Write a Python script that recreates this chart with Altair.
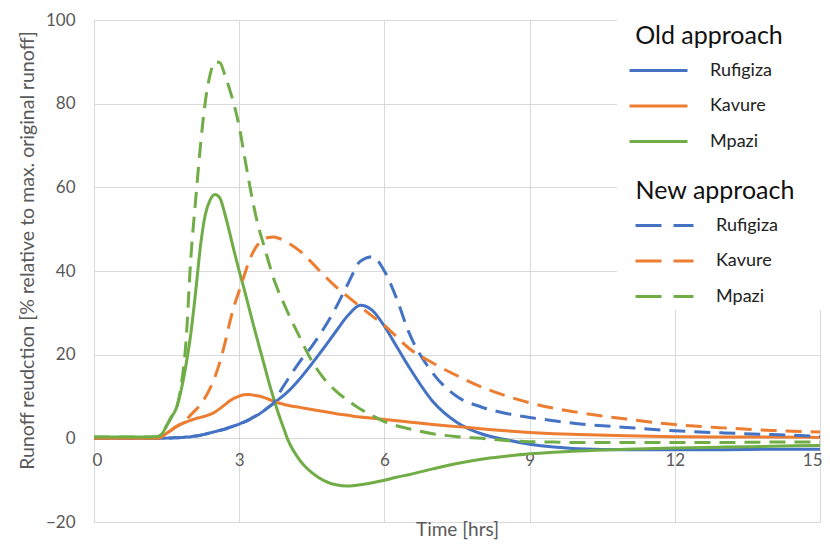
import altair as alt
import pandas as pd

time_hrs = [0, 1.0, 1.3, 1.4, 1.5, 1.6, 1.7, 1.8, 1.9, 2.0, 2.1, 2.2, 2.3, 2.4, 2.5, 2.6,
            2.7, 2.8, 2.9, 3.0, 3.1, 3.2, 3.3, 3.4, 3.5, 3.6, 3.7, 3.8, 3.9, 4.0, 4.25,
            4.5, 4.75, 5.0, 5.25, 5.5, 5.75, 6.0, 6.25, 6.5, 7.0, 7.5, 8.0, 8.5, 9.0,
            9.5, 10, 11, 12, 13, 14, 15]

rufigiza_old = [0, 0, 0, 0, 0.05, 0.1, 0.15, 0.2, 0.3, 0.4, 0.55, 0.75, 1.0, 1.3, 1.6, 1.9,
                2.2, 2.6, 3.0, 3.4, 3.9, 4.4, 5.1, 5.7, 6.5, 7.4, 8.3, 9.2, 10.1, 11.1, 14.2,
                17.8, 21.6, 25.6, 29.4, 31.8, 30.6, 26.8, 22.0, 17.2, 8.8, 3.8, 1.1, -0.3, -1.4,
                -2.1, -2.5, -2.7, -2.7, -2.7, -2.6, -2.6]
kavure_old = [0, 0, 0, 0.4, 1.2, 2.0, 2.8, 3.4, 3.9, 4.3, 4.7, 5.0, 5.3, 5.7, 6.3, 7.1,
              8.0, 8.9, 9.6, 10.1, 10.4, 10.5, 10.3, 10.1, 9.8, 9.4, 8.9, 8.5, 8.2, 7.9, 7.4,
              6.9, 6.4, 5.9, 5.5, 5.1, 4.8, 4.5, 4.2, 3.9, 3.3, 2.8, 2.3, 1.8, 1.4,
              1.1, 0.9, 0.6, 0.4, 0.3, 0.3, 0.2]
mpazi_old = [0.3, 0.3, 0.4, 1.0, 3.0, 5.0, 7.2, 11.5, 17.5, 25.0, 35.0, 46.0, 53.5, 57.0, 58.3, 57.5,
             53.8, 49.3, 44.5, 40.0, 35.8, 31.3, 26.8, 22.5, 18.3, 14.0, 10.0, 6.3, 3.0, -0.2, -5.2,
             -8.2, -10.1, -11.1, -11.4, -11.1, -10.6, -10.0, -9.3, -8.7, -7.3, -6.0, -5.0, -4.3, -3.7,
             -3.3, -3.0, -2.6, -2.3, -2.1, -1.9, -1.7]

rufigiza_new = [0, 0, 0, 0, 0.05, 0.1, 0.15, 0.2, 0.3, 0.4, 0.55, 0.75, 1.0, 1.3, 1.6, 1.9,
                2.2, 2.6, 3.0, 3.4, 3.9, 4.4, 5.1, 5.7, 6.5, 7.4, 8.3, 10.3, 12.2, 14.0, 18.3,
                22.0, 26.3, 31.3, 37.0, 42.3, 43.4, 40.0, 33.5, 25.5, 15.6, 10.0, 7.5, 6.0, 5.0,
                4.2, 3.5, 2.6, 1.8, 1.3, 0.9, 0.5]
kavure_new = [0, 0, 0, 0.4, 1.2, 2.0, 2.8, 3.5, 4.4, 5.6, 6.8, 8.0, 9.8, 12.0, 14.7, 18.2,
              22.5, 27.5, 31.8, 35.3, 38.8, 42.2, 44.8, 46.5, 47.4, 48.0, 48.1, 47.9, 47.4, 46.8, 44.8,
              42.0, 39.0, 36.2, 33.8, 31.5, 29.2, 27.0, 24.3, 21.6, 18.0, 15.0, 12.3, 10.2, 8.5,
              7.2, 6.2, 4.6, 3.3, 2.5, 1.9, 1.5]
mpazi_new = [0.3, 0.3, 0.4, 1.0, 3.0, 5.2, 7.0, 12.5, 23.0, 43.0, 57.0, 70.0, 80.5, 87.0, 90.0, 89.8,
             87.0, 83.5, 79.5, 74.5, 68.0, 61.5, 55.5, 50.5, 46.5, 42.5, 38.6, 35.5, 32.8, 30.2, 24.2,
             18.5, 14.3, 11.3, 9.0, 7.0, 5.4, 4.0, 3.0, 2.3, 1.1, 0.4, 0.0, -0.5, -0.8,
             -0.9, -1.0, -1.0, -1.0, -1.0, -0.9, -0.9]

sites = ["Rufigiza", "Kavure", "Mpazi"]
colors = ["#4472C4", "#ED7D31", "#70AD47"]
x_ticks = [0, 3, 6, 9, 12, 15]
y_ticks = [-20, 0, 20, 40, 60, 80, 100]

series = [
    ("Rufigiza", "Old", rufigiza_old), ("Kavure", "Old", kavure_old), ("Mpazi", "Old", mpazi_old),
    ("Rufigiza", "New", rufigiza_new), ("Kavure", "New", kavure_new), ("Mpazi", "New", mpazi_new),
]
rows = []
for site, appr, vals in series:
    for t, v in zip(time_hrs, vals):
        rows.append({"time": t, "value": v, "site": site, "approach": appr})
df = pd.DataFrame(rows)

FONT = "Lato"
GRID = "#d9d9d9"
LBL = "#595959"
W, H = 726, 502

xscale = alt.Scale(domain=[0, 15], nice=False, zero=False)
yscale = alt.Scale(domain=[-20, 100], nice=False, zero=False)

base = alt.Chart(df)

grid_layer = base.mark_line(opacity=0).encode(
    x=alt.X("time:Q", scale=xscale,
            axis=alt.Axis(orient="bottom", values=x_ticks, grid=True, gridColor=GRID, gridWidth=1,
                          labels=False, ticks=False, domain=False, title=None)),
    y=alt.Y("value:Q", scale=yscale,
            axis=alt.Axis(orient="left", values=y_ticks, grid=True, gridColor=GRID, gridWidth=1,
                          ticks=False, domain=False, labelFont=FONT, labelFontSize=17,
                          labelColor=LBL, labelPadding=19,
                          title="Runoff reudction [% relative to max. original runoff]",
                          titleFont=FONT, titleFontSize=19.5, titleFontWeight="normal",
                          titleColor=LBL, titleX=-67, titleY=230, titleAngle=270,
                          titleAlign="center", titleBaseline="middle")),
    detail="site:N",
)

legend_box = alt.Chart(alt.Data(values=[{"a": 1}])).mark_rect(color="white").encode(
    x=alt.value(523), x2=alt.value(728), y=alt.value(0), y2=alt.value(290)
)

leg_common = dict(orient="none", symbolType="M-2.5,0L2.5,0", symbolStrokeWidth=3, symbolSize=538,
                  labelFont=FONT, labelFontSize=18, labelColor="#222222", labelOffset=38,
                  titleFont=FONT, titleFontSize=25, titleFontWeight="normal", titleColor="#111111",
                  titleAnchor="middle", titlePadding=8, rowPadding=12.5, padding=0, labelLimit=200)

old_layer = base.transform_filter(alt.datum.approach == "Old").mark_line(
    strokeWidth=3, interpolate="monotone"
).encode(
    x=alt.X("time:Q", scale=xscale,
            axis=alt.Axis(orient="bottom", offset=-84, values=x_ticks, grid=False, ticks=False,
                          domain=False, labelFlush=True, labelFlushOffset=2, labelFont=FONT,
                          labelFontSize=17, labelColor=LBL, labelPadding=14, title="Time [hrs]",
                          titleFont=FONT, titleFontSize=19, titleFontWeight="normal",
                          titleColor=LBL, titleY=91, titleBaseline="middle")),
    y=alt.Y("value:Q", scale=yscale, axis=None),
    color=alt.Color("site:N", scale=alt.Scale(domain=sites, range=colors),
                    legend=alt.Legend(title="Old approach", legendX=541, legendY=4, **leg_common)),
)

new_layer = base.transform_filter(alt.datum.approach == "New").mark_line(
    strokeWidth=3, interpolate="monotone", strokeDash=[16, 9]
).encode(
    x=alt.X("time:Q", scale=xscale, axis=None),
    y=alt.Y("value:Q", scale=yscale, axis=None),
    color=alt.Color("site:N", scale=alt.Scale(domain=sites, range=colors),
                    legend=alt.Legend(title="New approach", legendX=541, legendY=159,
                                      symbolDash=[26, 12], **leg_common)),
)

chart = alt.layer(grid_layer, legend_box, old_layer, new_layer).resolve_scale(
    color="independent"
).resolve_axis(x="independent", y="independent").properties(
    width=W, height=H,
    autosize=alt.AutoSizeParams(type="none"),
    padding={"left": 86, "top": 12, "right": 2, "bottom": 19},
).configure_view(stroke=None)

chart.save("out.html", embed_options={"renderer": "svg", "actions": False})
